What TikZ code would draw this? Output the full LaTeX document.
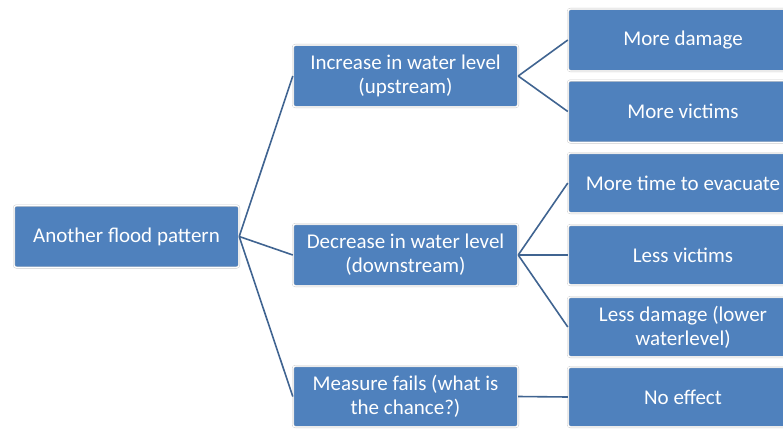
\documentclass[tikz,border=0pt]{standalone}
\usepackage{fontspec}
\setmainfont{Carlito}
\definecolor{boxblue}{RGB}{79,129,189}
\definecolor{linkcol}{RGB}{64,100,145}
\begin{document}
\begin{tikzpicture}[x=1pt,y=-1pt,
  bx/.style={draw=gray!45, double=white, double distance=1.2pt, fill=boxblue, rounded corners=2.5pt,
    text=white, align=center, font=\fontsize{21}{24}\selectfont, inner sep=0pt},
  link/.style={draw=linkcol, line width=1.6pt}]
\useasboundingbox (0,0) rectangle (783,428);
\clip (0,0) rectangle (783,428);
\node[bx, minimum width=225pt, minimum height=62pt] (root) at (126.5,236.5) {Another flood pattern};
\node[bx, minimum width=225pt, minimum height=62pt] (m1) at (405.5,76) {Increase in water level\\(upstream)};
\node[bx, minimum width=225pt, minimum height=62pt] (m2) at (405.5,255) {Decrease in water level\\(downstream)};
\node[bx, minimum width=225pt, minimum height=61pt] (m3) at (405.5,396.5) {Measure fails (what is\\the chance?)};
\node[bx, minimum width=230pt, minimum height=62pt] (a) at (683,40) {More damage};
\node[bx, minimum width=230pt, minimum height=62pt] (b) at (683,111.5) {More victims};
\node[bx, minimum width=230pt, minimum height=60pt] (c) at (683,183) {More time to evacuate};
\node[bx, minimum width=230pt, minimum height=60pt] (d) at (683,255) {Less victims};
\node[bx, minimum width=230pt, minimum height=60pt] (e) at (683,327) {Less damage (lower\\waterlevel)};
\node[bx, minimum width=230pt, minimum height=60pt] (f) at (683,397) {No effect};
\draw[link] (root.east) -- (m1.west);
\draw[link] (root.east) -- (m2.west);
\draw[link] (root.east) -- (m3.west);
\draw[link] (m1.east) -- (a.west);
\draw[link] (m1.east) -- (b.west);
\draw[link] (m2.east) -- (c.west);
\draw[link] (m2.east) -- (d.west);
\draw[link] (m2.east) -- (e.west);
\draw[link] (m3.east) -- (f.west);
\end{tikzpicture}
\end{document}
